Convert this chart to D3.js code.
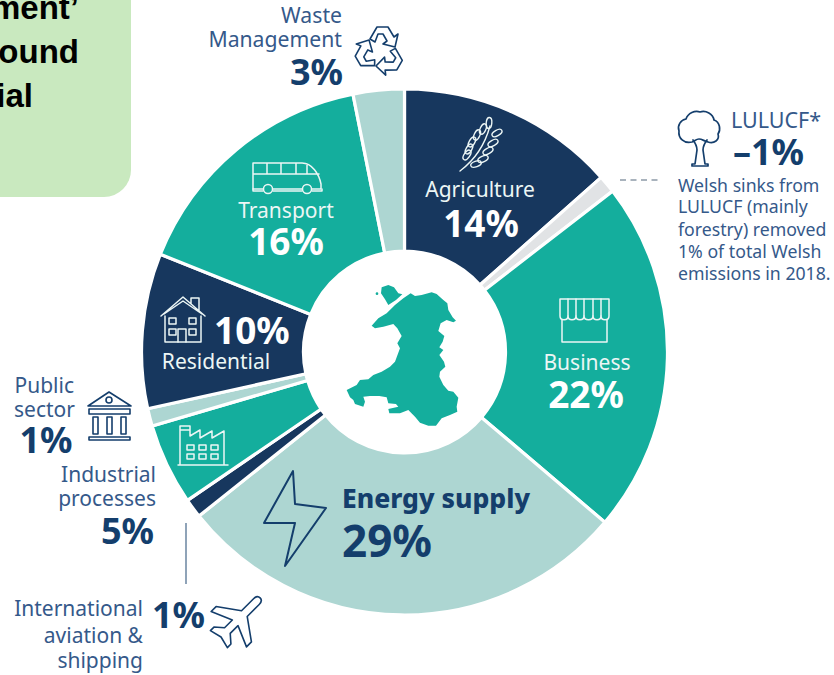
<!DOCTYPE html>
<html>
<head>
<meta charset="utf-8">
<script src="https://cdn.jsdelivr.net/npm/d3@7"></script>
<style>
  html, body { margin: 0; padding: 0; background: #fff; }
  svg { display: block; }
  text { font-family: "Noto Sans", sans-serif; }
</style>
</head>
<body>
<svg id="chart" width="834" height="675"></svg>
<script>
// Values, clockwise from 12 o'clock.
// The labels show them rounded, as the picture does.
const sectors = ["Agriculture", "LULUCF*", "Business", "Energy supply", "International aviation & shipping",
  "Industrial processes", "Public sector", "Residential", "Transport", "Waste Management"];
const shares = [13.7, -1.1, 22.1, 28.6, 1.2, 5.1, 1.1, 9.7, 16.1, 3.2];

const NAVY = "#17375e";
const TEAL = "#14ae9d";
const PALE = "#add6d2";
const GREY = "#e1e3e5";
const INK = "#143e6c";
const SOFT = "#35598a";
const LIGHT = "#ecf6f5";

const sliceColors = [NAVY, GREY, TEAL, PALE, NAVY, TEAL, PALE, NAVY, TEAL, PALE];

const svg = d3.select("#chart");

// green note box cut off by the slide edge
svg.append("path")
  .attr("d", "M0,0H131V170A27,27 0 0 1 104,197H0Z")
  .attr("fill", "#c9e9bf");

const boxLines = [["ment’", 19], ["ound", 63], ["ial", 107]];
svg.selectAll(".box-line")
  .data(boxLines)
  .enter()
  .append("text")
  .attr("class", "box-line")
  .attr("x", (d) => (d[0] === "ial" ? 33 : 79))
  .attr("y", (d) => d[1])
  .attr("text-anchor", "end")
  .style("font-family", "'Liberation Sans', sans-serif")
  .style("font-weight", 700)
  .style("font-size", "33px")
  .attr("fill", "#000")
  .text((d) => d[0]);

// donut
const pie = d3.pie().sort(null).value((d) => Math.abs(d));
const arc = d3.arc().innerRadius(101).outerRadius(263);
const donut = svg.append("g").attr("transform", "translate(404.5,352)");

donut.selectAll(".slice")
  .data(pie(shares))
  .enter()
  .append("path")
  .attr("class", "slice")
  .attr("d", arc)
  .attr("fill", (d, i) => sliceColors[i])
  .attr("stroke", "#fff")
  .attr("stroke-width", 3.2);

// Wales (coordinates of a 3x crop)
const wales = svg.append("g").attr("transform", "translate(320,260) scale(0.3333)").attr("fill", TEAL);
wales.append("path").attr("d", "M185,82L205,75L222,82L235,100L247,103L228,120L205,135L195,118L183,100Z");
wales.append("circle").attr("cx", 171).attr("cy", 101).attr("r", 4);
wales.append("path").attr("d", "M272,100L285,108L305,105L335,97L350,102L370,120L382,130L385,150L398,172L408,182L400,187L380,180L362,190L355,213L373,228L368,245L358,262L370,270L358,285L372,305L376,320L360,335L358,350L370,375L385,392L400,395L415,413L410,440L412,455L390,465L365,475L348,497L325,497L300,488L285,470L265,450L240,460L208,460L205,447L235,440L228,432L205,430L200,412L178,408L150,408L130,410L135,425L130,440L105,432L100,420L90,412L80,390L110,375L120,360L145,358L160,345L185,335L210,320L225,305L240,265L232,250L245,228L232,205L220,192L190,200L165,205L155,197L175,175L200,160L225,135L250,115Z");

// text helper
function label(txt, x, y, size, color, anchor, weight) {
  svg.append("text")
    .attr("x", x)
    .attr("y", y)
    .attr("text-anchor", anchor || "start")
    .style("font-size", size + "px")
    .style("font-weight", weight || 400)
    .attr("fill", color)
    .text(txt);
}
const pct = (i) => (shares[i] < 0 ? "–" : "") + Math.round(Math.abs(shares[i])) + "%";

label("Waste", 342, 23, 21.2, SOFT, "end");
label("Management", 342, 47, 21.2, SOFT, "end");
label(pct(9), 343, 85, 36, INK, "end", 700);

label("Agriculture", 480, 197, 21, LIGHT, "middle");
label(pct(0), 481, 237, 37, "#fff", "middle", 700);

label("Business", 587, 370, 21, LIGHT, "middle");
label(pct(2), 586, 408, 37, "#fff", "middle", 700);

label("Energy supply", 342, 508, 26.5, INK, "start", 800);
label(pct(3), 342, 557, 44, INK, "start", 700);

label("Transport", 286, 218, 21, LIGHT, "middle");
label(pct(8), 286, 255, 37, "#fff", "middle", 700);

label(pct(7), 214, 344, 37, "#fff", "start", 700);
label("Residential", 216, 369, 21, LIGHT, "middle");

label("Public", 74, 393, 21, SOFT, "end");
label("sector", 75, 417, 21, SOFT, "end");
label(pct(6), 46, 453, 36, INK, "middle", 700);

label("Industrial", 156, 482, 21, SOFT, "end");
label("processes", 156, 506, 21, SOFT, "end");
label(pct(5), 154, 544, 36, INK, "end", 700);

label("International", 143, 616, 21, SOFT, "end");
label("aviation &", 143, 643, 21, SOFT, "end");
label("shipping", 143, 668, 21, SOFT, "end");
label(pct(4), 152, 628, 36, INK, "start", 700);

label("LULUCF*", 731, 128, 21.5, SOFT, "start");
label(pct(1), 733, 165, 36, INK, "start", 700);

const noteLines = ["Welsh sinks from", "LULUCF (mainly", "forestry) removed", "1% of total Welsh", "emissions in 2018."];
const noteBaselines = [192, 213, 236, 258, 280];
noteLines.forEach((t, i) => label(t, 678, noteBaselines[i], 17.7, SOFT));

// leader lines
svg.append("line").attr("x1", 186).attr("x2", 186).attr("y1", 523).attr("y2", 584)
  .attr("stroke", "#8fa3b8").attr("stroke-width", 2);
svg.append("line").attr("x1", 620).attr("x2", 662).attr("y1", 180).attr("y2", 180)
  .attr("stroke", "#8d9aa8").attr("stroke-width", 1.6).attr("stroke-dasharray", "6 4.5");

// outline icons
function icon(x, y, color, width) {
  return svg.append("g")
    .attr("transform", `translate(${x},${y})`)
    .attr("fill", "none")
    .attr("stroke", color)
    .attr("stroke-width", width || 1.6)
    .attr("stroke-linejoin", "round")
    .attr("stroke-linecap", "round");
}

// recycling
const recycle = icon(380, 51, INK, 1.6);
[0, 120, 240].forEach((r) => {
  recycle.append("path")
    .attr("transform", `rotate(${r})`)
    .attr("d", "M-10,-12L-3,-24L8,-24L14,-14L18,-17L15,-4L3,-7L7,-10L3,-17L-2,-17L-5,-9Z");
});

// bus
const bus = icon(252, 160, LIGHT, 1.5);
bus.append("path").attr("d", "M1,3H50C60,3 67,14 69,24V29H1ZM1,14H67M15,3V14M29,3V14M44,3V14M55,4V14");
bus.append("path").attr("d", "M1,29V31H11M21,31H50M60,31H70V29");
bus.append("circle").attr("cx", 16).attr("cy", 29).attr("r", 4.5).attr("fill", TEAL);
bus.append("circle").attr("cx", 55).attr("cy", 29).attr("r", 4.5).attr("fill", TEAL);

// house
const house = icon(161, 296, LIGHT, 1.5);
house.append("path").attr("d", "M0,20L22,1L44,20M30,8V2H38V15M3,18L22,5L41,18M4,20V46H40V20");
[[8, 22], [28, 22], [8, 33], [28, 33]].forEach((p) => {
  house.append("rect").attr("x", p[0]).attr("y", p[1]).attr("width", 7).attr("height", 6);
});
house.append("path").attr("d", "M17,46V33H25V46");

// public building
const bank = icon(86, 391, INK, 1.6);
bank.append("path").attr("d", "M2,15L23,1L45,15ZM3,18H44V23H3ZM3,46H44V49H3Z");
bank.append("circle").attr("cx", 23).attr("cy", 9).attr("r", 3);
bank.append("path").attr("d", "M7,26H12V43H7ZM21,26H26V43H21ZM35,26H40V43H35Z");

// factory
const factory = icon(177, 424, LIGHT, 1.5);
factory.append("path").attr("d", "M1,41H51M3,41V2H13V12L23,6V14L35,7V14L47,7V41M3,6H13");
[10, 22, 34].forEach((x) => {
  [21, 30].forEach((y) => {
    factory.append("rect").attr("x", x).attr("y", y).attr("width", 7).attr("height", 5);
  });
});

// lightning bolt
icon(0, 0, INK, 2).append("path")
  .attr("d", "M293,471L295,504L326,508L285,566L295,523L264,523Z");

// plane
icon(238, 620, INK, 1.6).append("path")
  .attr("transform", "rotate(45)")
  .attr("d", "M-4,-26C-4,-33 4,-33 4,-26V-9L25,6V13L4,4V15L12,22V27L0,24L-12,27V22L-4,15V4L-25,13V6L-4,-9Z");

// wheat
const wheat = icon(460, 118, LIGHT, 1.4);
wheat.append("path").attr("d", "M0,53C12,44 24,30 30,8");
[[31, 5, 5], [25, 11, 25], [19, 17, 25], [14, 24, 30], [11, 31, 30], [9, 37, 35]].forEach((p) => {
  wheat.append("ellipse").attr("cx", p[0] - 2).attr("cy", p[1]).attr("rx", 2.8).attr("ry", 5.5)
    .attr("transform", `rotate(${p[2]} ${p[0] - 2} ${p[1]})`);
});
[[37, 15, 60], [33, 25, 60], [28, 33, 60], [23, 41, 65], [16, 46, 70]].forEach((p) => {
  wheat.append("ellipse").attr("cx", p[0]).attr("cy", p[1]).attr("rx", 2.8).attr("ry", 5.5)
    .attr("transform", `rotate(${p[2]} ${p[0]} ${p[1]})`);
});

// shop
const shop = icon(559, 298, LIGHT, 1.5);
shop.append("path").attr("d", "M1,1H50V18C50,23 42,23 42,18C42,23 34,23 34,18C34,23 25,23 25,18C25,23 17,23 17,18C17,23 9,23 9,18C9,23 1,23 1,18Z");
shop.append("path").attr("d", "M9,1V18M17,1V18M25,1V18M34,1V18M42,1V18M3,22V44H48V22");

// tree
const tree = icon(678, 110, INK, 1.7);
tree.append("path").attr("d", "M14,32C6,34 0,28 1,21C-1,15 3,10 8,9C10,3 17,0 22,2C28,0 35,4 36,10C42,12 43,20 40,24C42,30 36,34 30,32C26,31 24,29 21,29C18,29 17,31 14,32Z");
tree.append("path").attr("d", "M15,30C18,34 19,36 19,40L17,54H14V56H30V54H27L25,40C25,36 26,34 29,30");
</script>
</body>
</html>
